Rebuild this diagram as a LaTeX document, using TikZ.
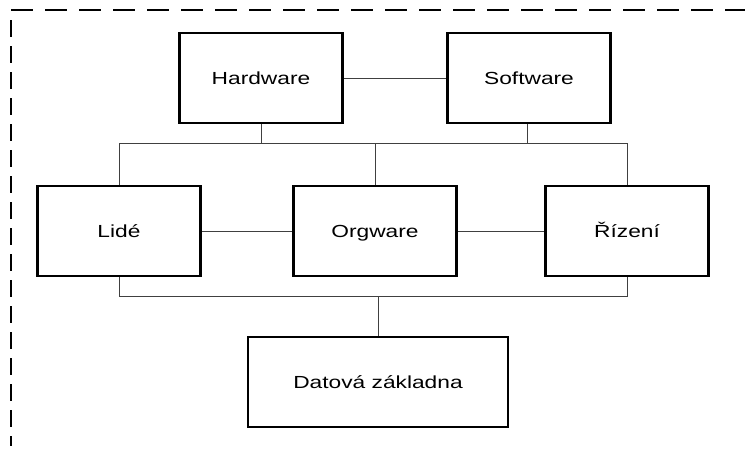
\documentclass[tikz,border=0pt]{standalone}
\usepackage{fontspec}
\setmainfont[FakeStretch=1.3]{Liberation Sans}
\begin{document}
\begin{tikzpicture}[x=1pt,y=-1pt,
  unit/.style={draw,line width=2.6pt,minimum width=163pt,minimum height=90pt,
    inner sep=0pt,text height=12.6pt,text depth=0pt,
    font=\fontsize{17.5}{21}\selectfont},
  link/.style={line width=1pt,draw=black!75}]
\useasboundingbox (0,0) rectangle (745,450);
% open dashed frame
\draw[line width=2.8pt,dash pattern=on 22pt off 12pt] (11,10) -- (745,10);
\draw[line width=2.8pt,dash pattern=on 17pt off 9pt] (11,20) -- (11,446);
% units
\node[unit] (hw) at (261,78) {Hardware};
\node[unit] (sw) at (529,78) {Software};
\node[unit] (li) at (119,231) {Lidé};
\node[unit] (og) at (375,231) {Orgware};
\node[unit] (ri) at (627,231) {Řízení};
\node[unit,minimum width=260pt] (db) at (378,382) {Datová základna};
% junction points
\coordinate (tl) at (119,143);
\coordinate (tr) at (627,143);
\coordinate (ta) at (261,143);
\coordinate (tb) at (527,143);
\coordinate (tm) at (375,143);
\coordinate (bl) at (119,296);
\coordinate (br) at (627,296);
\coordinate (bm) at (378,296);
% connectors
\draw[link] (hw) -- (sw);
\draw[link] (li) -- (og);
\draw[link] (og) -- (ri);
\draw[link] (hw.south) -- (ta);
\draw[link] (sw.south -| tb) -- (tb);
\draw[link] (li.north) -- (tl) -- (tr) -- (ri.north);
\draw[link] (tm) -- (og.north);
\draw[link] (li.south) -- (bl) -- (br) -- (ri.south);
\draw[link] (bm) -- (db.north);
\end{tikzpicture}
\end{document}
